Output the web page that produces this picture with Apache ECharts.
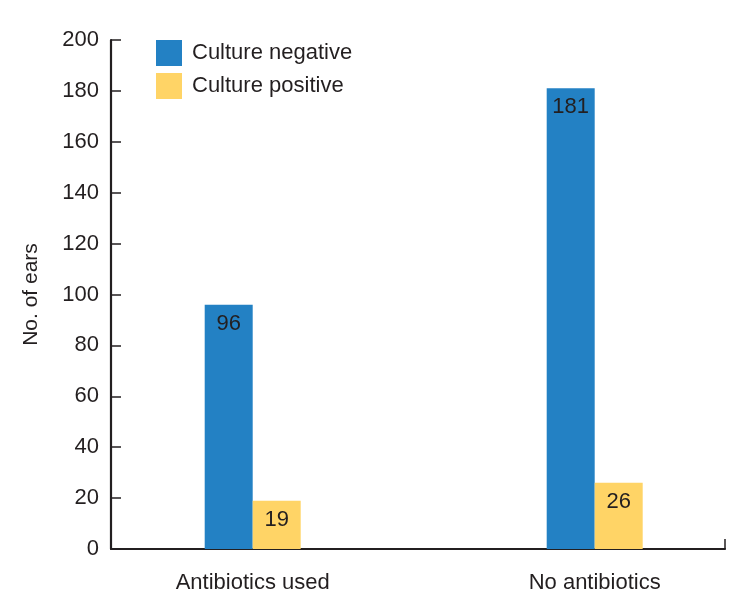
<!DOCTYPE html>
<html>
<head>
<meta charset="utf-8">
<script src="https://cdn.jsdelivr.net/npm/echarts@6/dist/echarts.min.js"></script>
<style>
html,body{margin:0;padding:0;background:#fff;}
#c{width:754px;height:611px;}
</style>
</head>
<body>
<div id="c"></div>
<script>
var categories = ['Antibiotics used', 'No antibiotics'];
var seriesNames = ['Culture negative', 'Culture positive'];
var cultureNegative = [96, 181];
var culturePositive = [19, 26];
var yTicks = [0, 20, 40, 60, 80, 100, 120, 140, 160, 180, 200];

var FONT = '"Liberation Sans", Arial, Helvetica, sans-serif';
var INK = '#231f20';
var TOP = 40, BOTTOM = 62;

var chart = echarts.init(document.getElementById('c'));
chart.setOption({
  animation: false,
  backgroundColor: '#fff',
  textStyle: { fontFamily: FONT },
  legend: {
    orient: 'vertical',
    left: 151, top: 35,
    itemWidth: 26, itemHeight: 26, itemGap: 7,
    icon: 'rect',
    data: seriesNames,
    textStyle: { fontSize: 22, color: INK, fontFamily: FONT, padding: [0, 0, 0, 5] }
  },
  grid: [
    { left: 81.7, width: 684, top: TOP, bottom: BOTTOM, outerBoundsMode: 'none', containLabel: false },
    { left: 111, right: 29, top: TOP, bottom: BOTTOM, outerBoundsMode: 'none', containLabel: false }
  ],
  xAxis: [
    {
      type: 'category', gridIndex: 0, data: categories,
      axisLine: { show: false }, axisTick: { show: false },
      axisLabel: { fontSize: 22, color: INK, margin: 23, fontFamily: FONT }
    },
    {
      type: 'value', gridIndex: 1, min: 0, max: 1, interval: 1,
      axisLine: { show: true, lineStyle: { color: INK, width: 2.2 } },
      axisTick: { show: true, inside: true, length: 10, lineStyle: { color: INK, width: 1.5 } },
      axisLabel: { show: false }, splitLine: { show: false }
    }
  ],
  yAxis: [
    {
      type: 'value', gridIndex: 0, min: 0, max: 200, interval: 20,
      show: false
    },
    {
      type: 'value', gridIndex: 1, min: yTicks[0], max: yTicks[yTicks.length - 1], interval: 20,
      name: 'No. of ears', nameLocation: 'middle', nameGap: 69,
      nameTextStyle: { fontSize: 21, color: INK, fontFamily: FONT },
      axisLine: { show: true, lineStyle: { color: INK, width: 2.2 } },
      axisTick: { show: true, inside: true, length: 10, lineStyle: { color: INK, width: 1.5 } },
      axisLabel: { fontSize: 22, color: INK, margin: 12, fontFamily: FONT },
      splitLine: { show: false }
    }
  ],
  series: [
    {
      name: seriesNames[0], type: 'bar', xAxisIndex: 0, yAxisIndex: 0,
      data: cultureNegative, barWidth: 48, barGap: '0%',
      itemStyle: { color: '#2381c4' },
      label: { show: true, position: 'insideTop', distance: 8, fontSize: 22, color: INK, fontFamily: FONT }
    },
    {
      name: seriesNames[1], type: 'bar', xAxisIndex: 0, yAxisIndex: 0,
      data: culturePositive, barWidth: 48, barGap: '0%',
      itemStyle: { color: '#ffd466' },
      label: { show: true, position: 'insideTop', distance: 8, fontSize: 22, color: INK, fontFamily: FONT }
    }
  ]
});
</script>
</body>
</html>
